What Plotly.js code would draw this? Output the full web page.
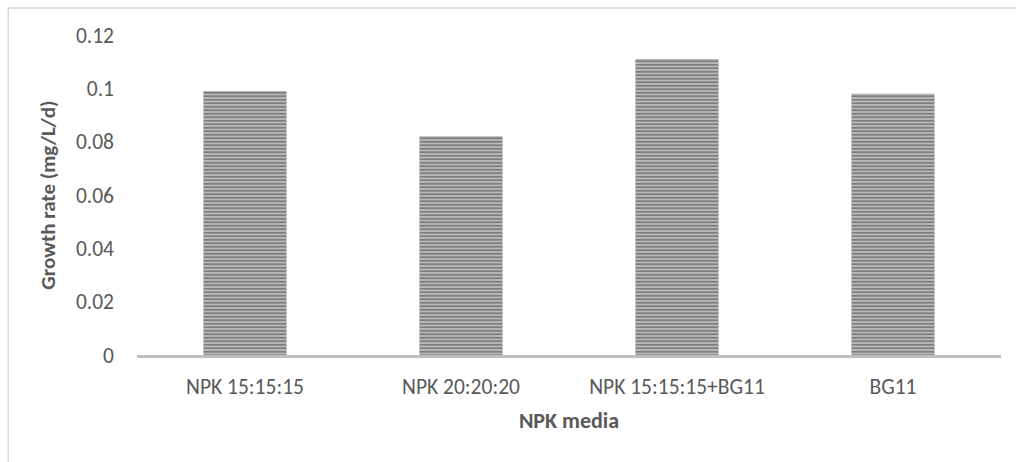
<!DOCTYPE html>
<html>
<head>
<meta charset="utf-8">
<script src="https://cdn.plot.ly/plotly-3.0.1.min.js"></script>
<style>
  html, body { margin: 0; padding: 0; background: #ffffff; }
  #chart { width: 1016px; height: 462px; }
</style>
</head>
<body>
<div id="chart"></div>
<script>
// Growth rate for each culture medium
const media = ["NPK 15:15:15", "NPK 20:20:20", "NPK 15:15:15+BG11", "BG11"];
const growthRate = [0.099, 0.082, 0.111, 0.098];
const yTicks = [0, 0.02, 0.04, 0.06, 0.08, 0.1, 0.12];
const yTickText = ["0", "0.02", "0.04", "0.06", "0.08", "0.1", "0.12"];

const FONT = "Carlito, Lato, 'Open Sans', sans-serif";
const TEXT = "#595959";

const trace = {
  type: "bar",
  x: media,
  y: growthRate,
  width: 0.385,
  marker: {
    color: "#b4b4b4",
    line: { width: 0 },
    pattern: { shape: "-", fgcolor: "#7e7e7e", bgcolor: "#b8b8b8", size: 3.5, solidity: 0.5, fillmode: "replace" }
  },
  hoverinfo: "x+y"
};

const layout = {
  width: 1016,
  height: 462,
  margin: { l: 137, r: 15, t: 35, b: 107 },
  paper_bgcolor: "#ffffff",
  plot_bgcolor: "#ffffff",
  font: { family: FONT, color: TEXT, size: 22 },
  showlegend: false,
  xaxis: {
    showline: true,
    linecolor: "#bfbfbf",
    linewidth: 2.5,
    ticks: "",
    showgrid: false,
    zeroline: false,
    ticklabelstandoff: 11,
    tickfont: { family: FONT, size: 21.5, color: TEXT },
    title: { text: "<b>NPK media</b>", font: { family: FONT, size: 22, color: TEXT }, standoff: 14 }
  },
  yaxis: {
    range: [0, 0.12],
    tickvals: yTicks,
    ticktext: yTickText,
    showline: false,
    showgrid: false,
    zeroline: false,
    ticks: "",
    ticklabelstandoff: 22,
    tickfont: { family: FONT, size: 21.5, color: TEXT },
    title: { text: "<b>Growth rate (mg/L/d)</b>", font: { family: FONT, size: 21, color: TEXT }, standoff: 14 }
  },
  shapes: [{
    type: "rect", xref: "paper", yref: "paper",
    x0: -0.149, x1: 1.1, y0: -0.6, y1: 1.084,
    line: { color: "#d9d9d9", width: 1.5 },
    fillcolor: "rgba(0,0,0,0)", layer: "below"
  }]
};

Plotly.newPlot("chart", [trace], layout, { displayModeBar: false, staticPlot: true });
</script>
</body>
</html>
